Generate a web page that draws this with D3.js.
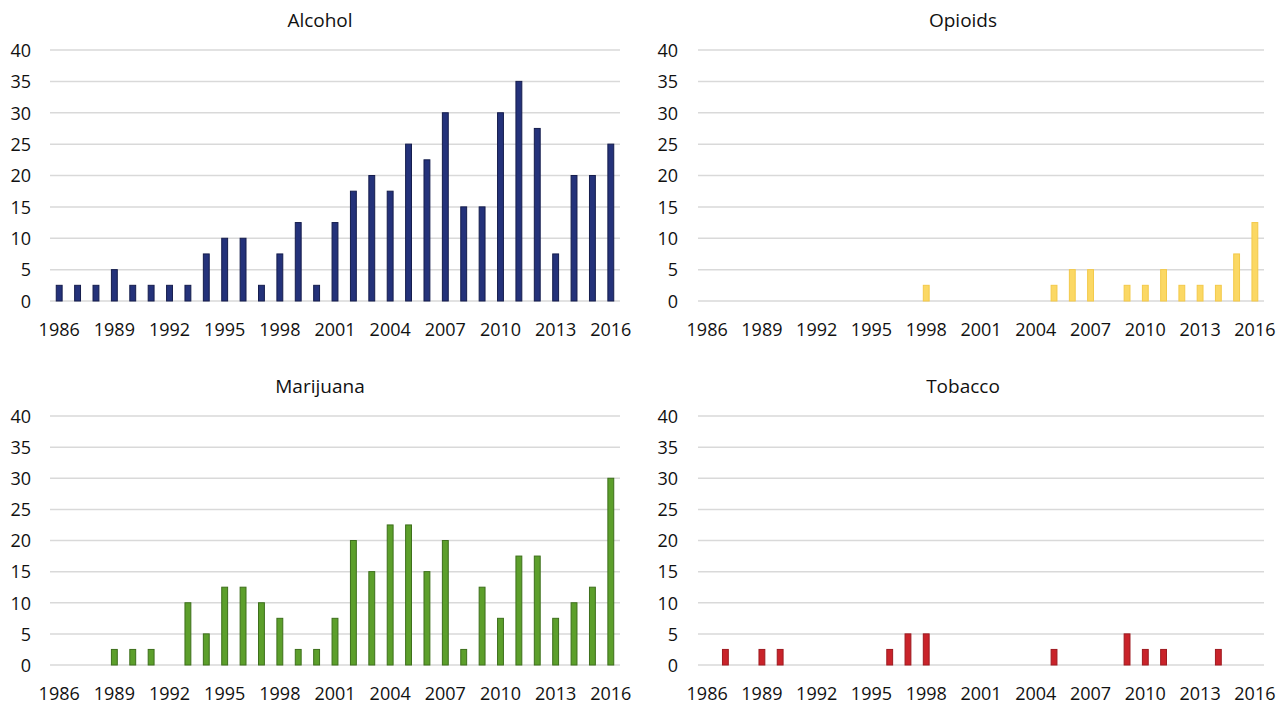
<!DOCTYPE html>
<html><head><meta charset="utf-8">
<script src="https://cdn.jsdelivr.net/npm/d3@7"></script>
<style>
html,body{margin:0;padding:0;background:#fff;}
text{font-family:"Open Sans","Noto Sans",sans-serif;fill:#111;}
</style></head>
<body>
<svg id="chart" width="1280" height="705"></svg>
<script>
const years = d3.range(1986, 2017);
const tickYears = [1986,1989,1992,1995,1998,2001,2004,2007,2010,2013,2016];
const yTicks = [0,5,10,15,20,25,30,35,40];

const alcohol   = [2.5,2.5,2.5,5,2.5,2.5,2.5,2.5,7.5,10,10,2.5,7.5,12.5,2.5,12.5,17.5,20,17.5,25,22.5,30,15,15,30,35,27.5,7.5,20,20,25];
const opioids   = [0,0,0,0,0,0,0,0,0,0,0,0,2.5,0,0,0,0,0,0,2.5,5,5,0,2.5,2.5,5,2.5,2.5,2.5,7.5,12.5];
const marijuana = [0,0,0,2.5,2.5,2.5,0,10,5,12.5,12.5,10,7.5,2.5,2.5,7.5,20,15,22.5,22.5,15,20,2.5,12.5,7.5,17.5,17.5,7.5,10,12.5,30];
const tobacco   = [0,2.5,0,2.5,2.5,0,0,0,0,0,2.5,5,5,0,0,0,0,0,0,2.5,0,0,0,5,2.5,2.5,0,0,2.5,0,0];

const titles = ["Alcohol","Opioids","Marijuana","Tobacco"];
const seriesList = [alcohol, opioids, marijuana, tobacco];
const fills   = ["#24327a","#fbd864","#5c9f2b","#c9232a"];
const strokes = ["#151d4d","#f3c94a","#3d6f1b","#9e1a20"];

const layout = [
  {x0:50,  x1:620,  y0:50,  y1:301, tx:320, ty:20,  lx:31},
  {x0:698, x1:1264, y0:50,  y1:301, tx:963, ty:20,  lx:678},
  {x0:50,  x1:620,  y0:416, y1:665, tx:320, ty:386, lx:31},
  {x0:698, x1:1264, y0:416, y1:665, tx:963, ty:386, lx:678}
];

const svg = d3.select("#chart");

layout.forEach((L, i) => {
  const g = svg.append("g");
  const x = d3.scaleBand().domain(years).range([L.x0, L.x1]).paddingInner(0.68).paddingOuter(0.34);
  const y = d3.scaleLinear().domain([0, 40]).range([L.y1, L.y0]);

  // gridlines
  g.selectAll("line.grid").data(yTicks).join("line")
    .attr("x1", L.x0).attr("x2", L.x1)
    .attr("y1", d => y(d)).attr("y2", d => y(d))
    .attr("stroke", "#d9d9d9").attr("stroke-width", 1.5);

  // y axis labels
  const yAxis = d3.axisLeft(y).tickValues(yTicks).tickSize(0).tickPadding(0);
  const ya = g.append("g").attr("transform", `translate(${L.lx},0)`).call(yAxis);
  ya.select(".domain").remove();
  ya.selectAll("text").attr("font-size", 18).attr("dy", "0.35em").style("font-family", '"Open Sans",sans-serif').attr("fill", "#111");

  // x axis labels
  const xAxis = d3.axisBottom(x).tickValues(tickYears).tickSize(0).tickPadding(0);
  const xa = g.append("g").attr("transform", `translate(0,${L.y1 + 29})`).call(xAxis);
  xa.select(".domain").remove();
  xa.selectAll("text").attr("font-size", 18).attr("dy", "0.35em").attr("y", 0).style("font-family", '"Open Sans",sans-serif').attr("fill", "#111");

  // bars
  const data = years.map((yr, k) => ({yr, v: seriesList[i][k]})).filter(d => d.v > 0);
  g.selectAll("rect.bar").data(data).join("rect")
    .attr("x", d => x(d.yr)).attr("width", x.bandwidth())
    .attr("y", d => y(d.v)).attr("height", d => y(0) - y(d.v))
    .attr("fill", fills[i]).attr("stroke", strokes[i]).attr("stroke-width", 1);

  // title
  svg.append("text").attr("x", L.tx).attr("y", L.ty).attr("text-anchor", "middle")
    .attr("dy", "0.35em").attr("font-size", 19).text(titles[i]);
});
</script>
</body></html>
